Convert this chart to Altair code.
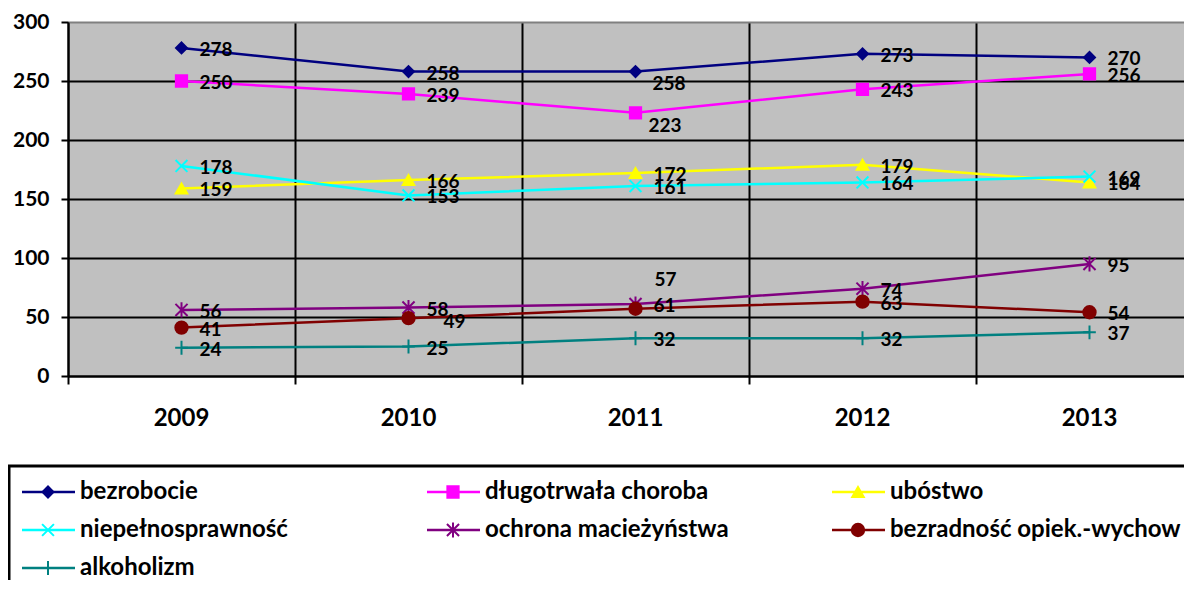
import altair as alt
import pandas as pd

# ---------------- data ----------------
years = [2009, 2010, 2011, 2012, 2013]
series = ["bezrobocie", "długotrwała choroba", "ubóstwo", "niepełnosprawność",
          "ochrona macieżyństwa", "bezradność opiek.-wychow", "alkoholizm"]
bezrobocie = [278, 258, 258, 273, 270]
dlugotrwala_choroba = [250, 239, 223, 243, 256]
ubostwo = [159, 166, 172, 179, 164]
niepelnosprawnosc = [178, 153, 161, 164, 169]
ochrona_macierzynstwa = [56, 58, 61, 74, 95]
bezradnosc = [41, 49, 57, 63, 54]
alkoholizm = [24, 25, 32, 32, 37]
y_ticks = [0, 50, 100, 150, 200, 250, 300]

values = [bezrobocie, dlugotrwala_choroba, ubostwo, niepelnosprawnosc,
          ochrona_macierzynstwa, bezradnosc, alkoholizm]

# ---------------- styles ----------------
colors = ["#000080", "#FF00FF", "#FFFF00", "#00FFFF", "#800080", "#800000", "#008080"]
shapes = ["diamond", "square", "triangle-up",
          "M-1,-1L1,1M-1,1L1,-1",
          "M-1,-1L1,1M-1,1L1,-1M0,-1.25L0,1.25",
          "circle",
          "M-1,0L1,0M0,-1.1L0,1.1"]
sizes = [120, 160, 190, 169, 150, 200, 150]

W, H = 1116, 354
PAD_L, PAD_T, TOTAL_H = 60, 14, 572
CAT = 227.0
FONT = "Lato"

rows = []
for s, vals in zip(series, values):
    for y, v in zip(years, vals):
        rows.append({"series": s, "year": y, "value": v, "key": f"{s}|{y}"})
df = pd.DataFrame(rows)

years_df = pd.DataFrame({"year": years})

legend_df = pd.DataFrame({"series": series,
                          "col": [i % 3 for i in range(len(series))],
                          "row": [i // 3 for i in range(len(series))]})

xscale = alt.Scale(domain=[years[0] - 0.5, years[0] - 0.5 + W / CAT], nice=False, zero=False)
xaxis = alt.Axis(values=[y - 0.5 for y in years], labels=False, title=None,
                 tickSize=8, tickWidth=2, tickColor="black",
                 domainColor="black", domainWidth=2,
                 grid=True, gridColor="black", gridWidth=2)
yscale = alt.Scale(domain=[0, 300], nice=False)
yaxis = alt.Axis(values=y_ticks, title=None, tickSize=7, tickWidth=2, tickColor="black",
                 domainColor="black", domainWidth=2,
                 grid=True, gridWidth=2,
                 gridColor=alt.condition("datum.value >= 300", alt.value("#808080"), alt.value("black")),
                 labelFont=FONT, labelFontWeight="bold", labelFontSize=21, labelColor="black",
                 labelPadding=12)

x_enc = alt.X("year:Q", scale=xscale, axis=xaxis)
y_enc = alt.Y("value:Q", scale=yscale, axis=yaxis)
color_enc = alt.Color("series:N", scale=alt.Scale(domain=series, range=colors), legend=None)
stroke_enc = alt.Stroke("series:N", scale=alt.Scale(domain=series, range=colors), legend=None)
shape_enc = alt.Shape("series:N", scale=alt.Scale(domain=series, range=shapes), legend=None)
size_enc = alt.Size("series:O", scale=alt.Scale(domain=series, range=sizes), legend=None)

base = alt.Chart(df)

lines = base.mark_line(strokeWidth=2.5).encode(
    x=x_enc, y=y_enc, color=color_enc, detail="series:N",
    order=alt.Order("year:Q"))

points = base.mark_point(filled=True, strokeWidth=2, opacity=1).encode(
    x=x_enc, y=y_enc, color=color_enc, stroke=stroke_enc, shape=shape_enc, size=size_enc)

special = {
    f"{series[0]}|2011": (17, 12),
    f"{series[1]}|2011": (13, 13),
    f"{series[5]}|2011": (19, -29),
    f"{series[5]}|2010": (35, 4),
}
label_style = dict(align="left", baseline="middle", font=FONT, fontWeight="bold",
                   fontSize=19, color="black")
special_list = "[" + ",".join(f"'{k}'" for k in special) + "]"
labels = [base.mark_text(dx=18, dy=2, **label_style).encode(
    x=x_enc, y=y_enc, text="value:Q").transform_filter(
    f"indexof({special_list}, datum.key) < 0")]
for k, (dx, dy) in special.items():
    labels.append(base.mark_text(dx=dx, dy=dy, **label_style).encode(
        x=x_enc, y=y_enc, text="value:Q").transform_filter(f"datum.key == '{k}'"))

year_labels = alt.Chart(years_df).mark_text(
    font=FONT, fontWeight="bold", fontSize=24, color="black", baseline="middle").encode(
    x=alt.X("year:Q", scale=xscale, axis=xaxis), y=alt.value(H + 43), text="year:N")

# ---------------- legend (pixel layout, relative to plot origin) ----------------
leg = alt.Chart(legend_df).transform_calculate(
    lx0="-46 + datum.col * 405", lx1="7 + datum.col * 405",
    lxm="-20 + datum.col * 405", ltx="12 + datum.col * 405",
    ly="470 + datum.row * 38")

leg_lines = leg.mark_rule(strokeWidth=2.5).encode(
    x=alt.X("lx0:Q", scale=None), x2="lx1:Q", y=alt.Y("ly:Q", scale=None), color=color_enc)
leg_points = leg.mark_point(filled=True, strokeWidth=2, opacity=1).encode(
    x=alt.X("lxm:Q", scale=None), y=alt.Y("ly:Q", scale=None),
    color=color_enc, stroke=stroke_enc, shape=shape_enc, size=size_enc)
leg_text = leg.mark_text(align="left", baseline="middle", font=FONT, fontWeight="bold",
                         fontSize=24, color="black").encode(
    x=alt.X("ltx:Q", scale=None), y=alt.Y("ly:Q", scale=None), text="series:N")

box_df = pd.DataFrame({"x0": [-59], "x1": [W + 20], "y0": [444], "y1": [600]})
leg_box = alt.Chart(box_df).mark_rect(fillOpacity=0, stroke="black", strokeWidth=3).encode(
    x=alt.X("x0:Q", scale=None), x2="x1:Q", y=alt.Y("y0:Q", scale=None), y2="y1:Q")

chart = alt.layer(
    lines, points, *labels, year_labels, leg_box, leg_lines, leg_points, leg_text
).properties(
    width=W, height=H,
    autosize=alt.AutoSizeParams(type="none"),
    padding={"left": PAD_L, "top": PAD_T, "right": 0, "bottom": TOTAL_H - PAD_T - H},
    background="white",
).configure_view(fill="#C0C0C0", stroke="transparent")

chart.save("out.html", embed_options={"renderer": "svg", "actions": False})
